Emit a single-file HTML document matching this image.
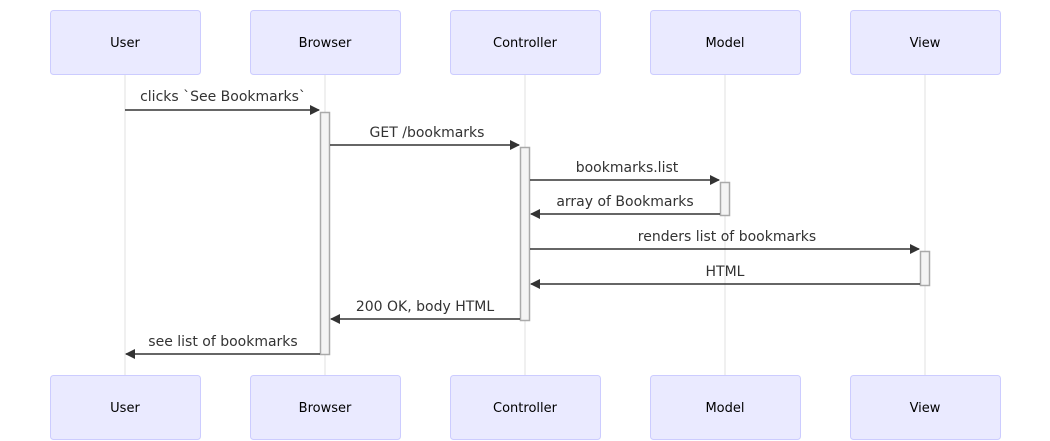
<!DOCTYPE html>
<html><head><meta charset="utf-8"><style>body{margin:0;background:#fff}svg{display:block}</style></head><body>
<svg width="1050" height="441" xmlns="http://www.w3.org/2000/svg" font-family="'Trebuchet MS','DejaVu Sans','Liberation Sans',sans-serif">
<defs><marker id="a" markerWidth="12" markerHeight="12" refX="9" refY="5" orient="auto" markerUnits="userSpaceOnUse"><path d="M0,0 L10,5 L0,10 z" fill="#333"/></marker></defs>
<g stroke="#e0e0e0" stroke-width="1">
<line x1="125" y1="75" x2="125" y2="375"/><line x1="325" y1="75" x2="325" y2="375"/><line x1="525" y1="75" x2="525" y2="375"/><line x1="725" y1="75" x2="725" y2="375"/><line x1="925" y1="75" x2="925" y2="375"/>
</g>
<g fill="#eaeaff" stroke="#ccccff" stroke-width="1">
<rect x="50.5" y="10.5" width="150" height="64" rx="3"/><rect x="250.5" y="10.5" width="150" height="64" rx="3"/><rect x="450.5" y="10.5" width="150" height="64" rx="3"/><rect x="650.5" y="10.5" width="150" height="64" rx="3"/><rect x="850.5" y="10.5" width="150" height="64" rx="3"/>
<rect x="50.5" y="375.5" width="150" height="64" rx="3"/><rect x="250.5" y="375.5" width="150" height="64" rx="3"/><rect x="450.5" y="375.5" width="150" height="64" rx="3"/><rect x="650.5" y="375.5" width="150" height="64" rx="3"/><rect x="850.5" y="375.5" width="150" height="64" rx="3"/>
</g>
<g font-size="13" text-anchor="middle" fill="#000">
<text x="125" y="47">User</text><text x="325" y="47">Browser</text><text x="525" y="47">Controller</text><text x="725" y="47">Model</text><text x="925" y="47">View</text>
<text x="125" y="412">User</text><text x="325" y="412">Browser</text><text x="525" y="412">Controller</text><text x="725" y="412">Model</text><text x="925" y="412">View</text>
</g>
<g fill="#f4f4f4" stroke="#aaa" stroke-width="1.5">
<rect x="320.5" y="112.5" width="9" height="242"/>
<rect x="520.5" y="147.5" width="9" height="173"/>
<rect x="720.5" y="182.5" width="9" height="33"/>
<rect x="920.5" y="251.5" width="9" height="34"/>
</g>
<g stroke="#333" stroke-width="1.5" marker-end="url(#a)">
<line x1="125" y1="110" x2="319" y2="110"/>
<line x1="330" y1="145" x2="519" y2="145"/>
<line x1="530" y1="180" x2="719" y2="180"/>
<line x1="720" y1="214" x2="531" y2="214"/>
<line x1="530" y1="249" x2="919" y2="249"/>
<line x1="920" y1="284" x2="531" y2="284"/>
<line x1="520" y1="319" x2="331" y2="319"/>
<line x1="320" y1="354" x2="126" y2="354"/>
</g>
<g font-size="14" text-anchor="middle" fill="#333">
<text x="223" y="101">clicks `See Bookmarks`</text>
<text x="427" y="137">GET /bookmarks</text>
<text x="627" y="172">bookmarks.list</text>
<text x="625" y="206">array of Bookmarks</text>
<text x="727" y="241">renders list of bookmarks</text>
<text x="725" y="276">HTML</text>
<text x="425" y="311">200 OK, body HTML</text>
<text x="223" y="346">see list of bookmarks</text>
</g>
</svg>
</body></html>
